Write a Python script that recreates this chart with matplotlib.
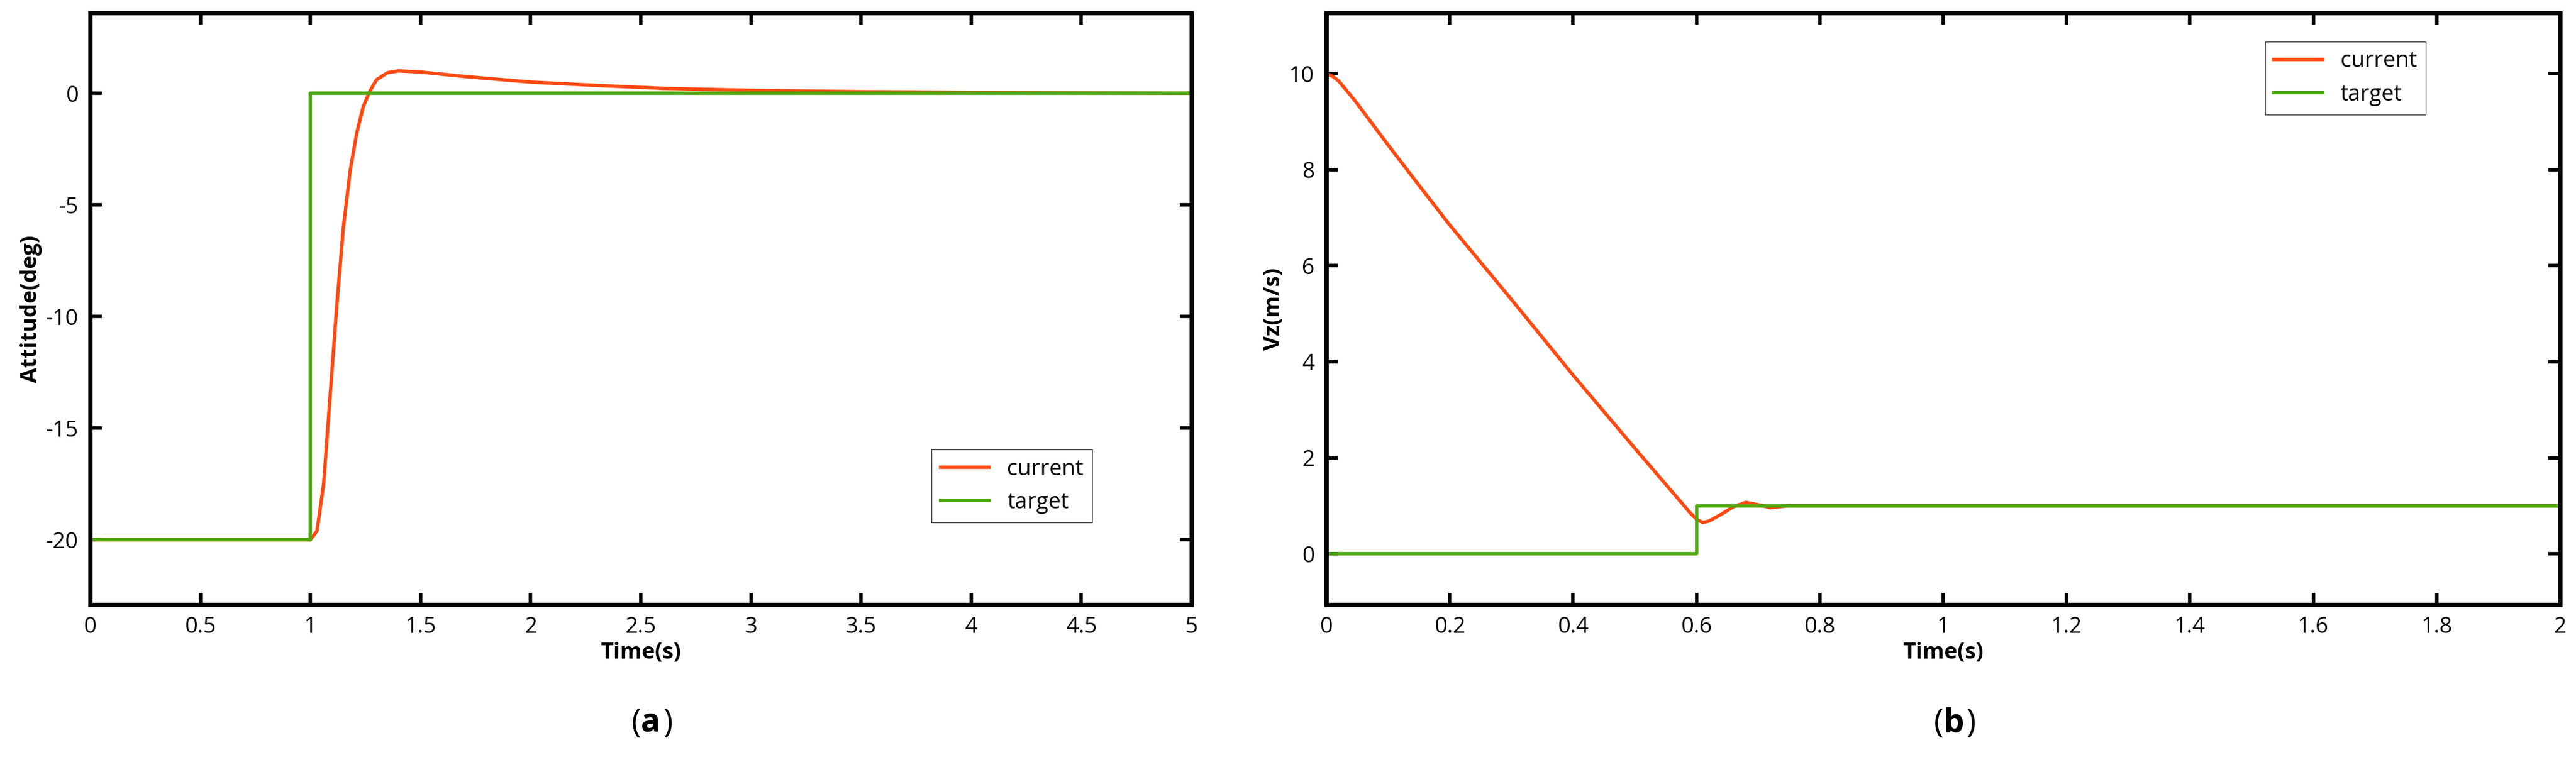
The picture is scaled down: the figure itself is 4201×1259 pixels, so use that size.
import matplotlib
matplotlib.use("Agg")
import matplotlib.pyplot as plt
import numpy as np

plt.rcParams['font.family'] = ['Open Sans', 'DejaVu Sans']
plt.rcParams['axes.unicode_minus'] = False

# Panel (a)
a_t = [0, 0.99, 1.0, 1.03, 1.06, 1.09, 1.12, 1.15, 1.18, 1.21, 1.24, 1.27, 1.30, 1.35, 1.40, 1.5, 1.7, 2.0, 2.3, 2.6, 3.0, 3.5, 4.0, 4.5, 5.0]
a_cur = [-20, -20, -20, -19.6, -17.5, -13.5, -9.5, -6.0, -3.5, -1.8, -0.6, 0.1, 0.6, 0.92, 1.0, 0.95, 0.75, 0.5, 0.35, 0.22, 0.13, 0.07, 0.04, 0.02, 0.0]
a_tgt_t = [0, 1.0, 1.0, 5.0]
a_tgt = [-20, -20, 0, 0]

# Panel (b)
b_t = [0, 0.01, 0.02, 0.035, 0.05, 0.075, 0.1, 0.15, 0.2, 0.3, 0.4, 0.5, 0.59, 0.6, 0.61, 0.62, 0.64, 0.66, 0.68, 0.70, 0.72, 0.75, 1.0, 1.5, 2.0]
b_cur = [10.0, 9.95, 9.85, 9.62, 9.38, 8.95, 8.52, 7.68, 6.85, 5.3, 3.72, 2.2, 0.85, 0.72, 0.65, 0.68, 0.82, 0.98, 1.07, 1.02, 0.96, 1.0, 1.0, 1.0, 1.0]
b_tgt_t = [0, 0.6, 0.6, 2.0]
b_tgt = [0, 0, 1, 1]

orange = '#ff4a12'
green = '#4ca80e'

fig = plt.figure(figsize=(42.01, 12.59), dpi=100)
W, H = 4201, 1259
ax1 = fig.add_axes([147/W, 1 - 986/H, (1943-147)/W, (986-21)/H])
ax2 = fig.add_axes([2163/W, 1 - 986/H, (4175-2163)/W, (986-21)/H])

fs = 26
for ax in (ax1, ax2):
    for s in ax.spines.values():
        s.set_linewidth(5)
    ax.tick_params(direction='in', length=14, width=4, top=True, right=True, labelsize=fs, pad=14)

ax1.plot(a_t, a_cur, color=orange, lw=4, label='current')
ax1.plot(a_tgt_t, a_tgt, color=green, lw=4, label='target')
ax1.set_xlim(0, 5)
ax1.set_ylim(-22.9, 3.6)
ax1.set_xticks(np.arange(0, 5.01, 0.5))
ax1.set_xticklabels(['0', '0.5', '1', '1.5', '2', '2.5', '3', '3.5', '4', '4.5', '5'])
ax1.set_yticks([-20, -15, -10, -5, 0])
ax1.set_xlabel('Time(s)', fontsize=fs, fontweight='bold')
ax1.set_ylabel('Attitude(deg)', fontsize=fs, fontweight='bold')
ax1.legend(loc='lower right', bbox_to_anchor=(0.92, 0.12), fontsize=fs, frameon=True,
           fancybox=False, edgecolor='black', handlelength=2.2)

ax2.plot(b_t, b_cur, color=orange, lw=4, label='current')
ax2.plot(b_tgt_t, b_tgt, color=green, lw=4, label='target')
ax2.set_xlim(0, 2)
ax2.set_ylim(-1.06, 11.27)
ax2.set_xticks(np.arange(0, 2.01, 0.2))
ax2.set_xticklabels(['0', '0.2', '0.4', '0.6', '0.8', '1', '1.2', '1.4', '1.6', '1.8', '2'])
ax2.set_yticks([0, 2, 4, 6, 8, 10])
ax2.set_xlabel('Time(s)', fontsize=fs, fontweight='bold')
ax2.set_ylabel('Vz(m/s)', fontsize=fs, fontweight='bold')
ax2.legend(loc='upper right', bbox_to_anchor=(0.9, 0.97), fontsize=fs, frameon=True,
           fancybox=False, edgecolor='black', handlelength=2.2)

for x, lab in ((1045, 'a'), (3170, 'b')):
    fig.text(x/W, 1 - 1180/H, '(', fontsize=38, ha='right', va='center')
    fig.text(x/W, 1 - 1180/H, lab, fontsize=38, fontweight='bold', ha='left', va='center')
    fig.text((x + 36)/W, 1 - 1180/H, ')', fontsize=38, ha='left', va='center')

fig.savefig('out.png', dpi=100)
